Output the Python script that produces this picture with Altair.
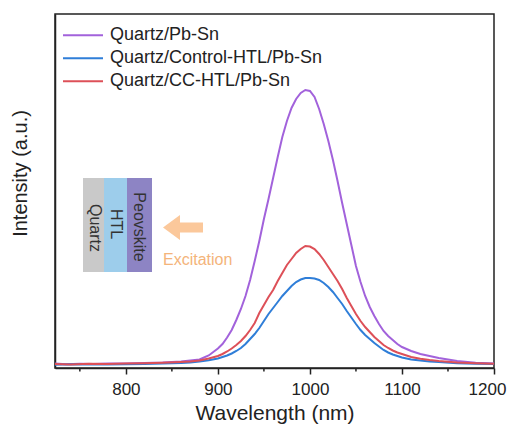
import altair as alt
import pandas as pd

# ---------------- data ----------------
series_names = ["Quartz/Pb-Sn", "Quartz/Control-HTL/Pb-Sn", "Quartz/CC-HTL/Pb-Sn"]
series_colors = ["#A262DB", "#2F7ED8", "#DD5058"]

wl_purple = [723, 735, 750, 765, 780, 800, 820, 840, 860, 870, 880, 890,
             900, 905, 910, 915, 920, 925, 930, 935, 940, 945, 950, 955, 960, 965, 970, 975,
             980, 985, 990, 995, 1000, 1005, 1010, 1015, 1020, 1025, 1030, 1035, 1040, 1045,
             1050, 1055, 1060, 1065, 1070, 1075, 1080, 1085, 1090, 1095, 1100,
             1110, 1120, 1130, 1140, 1160, 1180, 1200]
int_purple = [1.5, 0.8, 1.2, 0.9, 1.4, 1.6, 2.0, 2.5, 3.5, 4.5, 5.5, 9.5,
              16.5, 21, 27.5, 35, 45, 56, 69, 85, 104, 124, 146, 166, 187, 208, 228, 244,
              257, 266, 272, 275, 274, 268, 256, 241, 224, 205, 184, 162, 141, 120,
              99, 83, 69, 58, 49, 41, 34, 29, 25, 21, 18,
              14, 11, 9, 7, 4, 2.2, 1.4]

wl_blue = [723, 740, 760, 780, 800, 820, 840, 860, 870, 880, 890,
           900, 905, 910, 915, 920, 925, 930, 935, 940, 945, 950, 955, 960, 965, 970, 975,
           980, 985, 990, 995, 1000, 1005, 1010, 1015, 1020, 1025, 1030, 1035, 1040, 1045,
           1050, 1055, 1060, 1065, 1070, 1075, 1080, 1085, 1090, 1095, 1100,
           1110, 1120, 1130, 1140, 1160, 1180, 1200]
int_blue = [0.3, 0.8, 0.4, 0.6, 0.8, 1.0, 1.4, 2.0, 2.6, 3.4, 4.8,
            6.5, 8, 9.5, 11.5, 14, 17, 21, 26, 31, 37, 44, 51, 57, 63, 69, 74,
            79, 83, 85.5, 87, 87, 86.5, 85, 82, 78, 73, 67, 61, 54, 47.5,
            41, 35, 30, 26, 22, 18.5, 15, 12.5, 10.5, 9, 7.5,
            5.5, 4.4, 3.6, 2.9, 1.8, 1.2, 0.9]

wl_red = [723, 740, 760, 780, 800, 820, 840, 860, 870, 880, 890,
          900, 905, 910, 915, 920, 925, 930, 935, 940, 945, 950, 955, 960, 965, 970, 975,
          980, 985, 990, 995, 1000, 1005, 1010, 1015, 1020, 1025, 1030, 1035, 1040, 1045,
          1050, 1055, 1060, 1065, 1070, 1075, 1080, 1085, 1090, 1095, 1100,
          1110, 1120, 1130, 1140, 1160, 1180, 1200]
int_red = [1.0, 0.6, 1.2, 1.0, 1.4, 1.7, 2.2, 3.0, 3.6, 4.5, 6.5,
           9, 11, 13.5, 16.5, 20, 24, 29, 35, 42, 52, 60, 68, 75, 84, 92, 100,
           106, 112, 116, 119, 118.5, 116, 111, 105, 98, 91, 84, 76, 67, 59,
           51, 44, 38, 33, 28, 24, 20, 17, 14.5, 12.5, 11,
           8, 6.3, 5, 4, 2.6, 1.8, 1.3]

major_ticks = [800, 900, 1000, 1100, 1200]
minor_ticks = [750, 850, 950, 1050, 1150]

inset_layers = ["Quartz", "HTL", "Peovskite"]
inset_colors = ["#C9C9C9", "#9DCDEB", "#8D84C4"]
excitation_label = ["Excitation"]

# ---------------- build table ----------------
rows = []
for name, xs, ys in zip(series_names, [wl_purple, wl_blue, wl_red],
                        [int_purple, int_blue, int_red]):
    for x, y in zip(xs, ys):
        rows.append({"series": name, "wl": x, "I": y})
df = pd.DataFrame(rows)

FONT = "Liberation Sans"
INK = "#222222"

x_scale = alt.Scale(domain=[723, 1200], nice=False, zero=False)
y_scale = alt.Scale(domain=[-3, 351], nice=False, zero=False)

x_axis = alt.Axis(values=major_ticks, format="d", title="Wavelength (nm)", grid=False,
                  tickSize=6, tickWidth=1.5, tickColor=INK,
                  labelFontSize=17, labelFont=FONT, labelColor=INK,
                  labelPadding=7, labelFlush=False, labelOverlap=False, labelBound=False,
                  labelOffset={"condition": {"test": "datum.value == 1200", "value": -7},
                               "value": 0},
                  titleFontSize=21, titleFont=FONT, titleColor=INK,
                  titleFontWeight="normal", titlePadding=5,
                  domainColor=INK, domainWidth=1.5)

lines = alt.Chart(df).mark_line(strokeWidth=2, clip=True).encode(
    x=alt.X("wl:Q", scale=x_scale, axis=x_axis),
    y=alt.Y("I:Q", scale=y_scale,
            axis=alt.Axis(title="Intensity (a.u.)", ticks=False, labels=False, grid=False,
                          titleFontSize=20, titleFont=FONT, titleColor=INK,
                          titleFontWeight="normal", titleX=-35, titleY=159,
                          titleAlign="center", titleBaseline="middle", titleAngle=270,
                          domainColor=INK, domainWidth=1.5)),
    color=alt.Color("series:N",
                    scale=alt.Scale(domain=series_names, range=series_colors),
                    legend=alt.Legend(orient="none", legendX=7, legendY=10, title=None,
                                      symbolType="stroke", symbolSize=1600,
                                      symbolStrokeWidth=2, labelFontSize=18,
                                      labelFont=FONT, labelColor=INK, labelOffset=6,
                                      clipHeight=22.5, rowPadding=0, padding=0,
                                      labelLimit=400)),
)

minor = alt.Chart(pd.DataFrame({"wl": minor_ticks})).mark_rule(
    color=INK, strokeWidth=1.5).encode(
    x=alt.X("wl:Q", scale=x_scale, axis=x_axis),
    y=alt.value(354), y2=alt.value(357.5))

def one(label):
    return pd.DataFrame({"label": [label]})

rect_x = [(28, 49), (49, 72), (72, 97)]
text_pos = [(40, 214), (61, 210), (84, 213)]
inset = []
for lab, col, (x0, x1), (tx, ty) in zip(inset_layers, inset_colors, rect_x, text_pos):
    inset.append(alt.Chart(one(lab)).mark_rect(color=col, opacity=1).encode(
        x=alt.value(x0), x2=alt.value(x1), y=alt.value(164), y2=alt.value(258)))
    inset.append(alt.Chart(one(lab)).mark_text(
        angle=90, fontSize=16, font=FONT, color="#333333",
        align="center", baseline="middle").encode(
        x=alt.value(tx), y=alt.value(ty), text="label:N"))

arrow_path = "M-1,0 L-0.15,-0.625 L-0.15,-0.25 L1,-0.25 L1,0.25 L-0.15,0.25 L-0.15,0.625 Z"
arrow = alt.Chart(one("arrow")).mark_point(
    shape=arrow_path, size=1600, filled=True, color="#FBC89B", opacity=1,
    strokeWidth=0).encode(x=alt.value(128), y=alt.value(213.5))

exc = alt.Chart(pd.DataFrame({"label": excitation_label})).mark_text(
    align="left", baseline="middle", fontSize=16, font=FONT, color="#F4B47A").encode(
    x=alt.value(108), y=alt.value(246), text="label:N")

chart = alt.layer(*inset, arrow, exc, minor, lines).properties(
    width=439, height=354,
    autosize=alt.AutoSizeParams(type="none"),
    padding={"left": 47, "top": 6, "right": 14, "bottom": 56},
    background="white",
).configure_view(stroke=INK, strokeWidth=1.5)

chart.save("out.html", embed_options={"renderer": "svg", "actions": False})
